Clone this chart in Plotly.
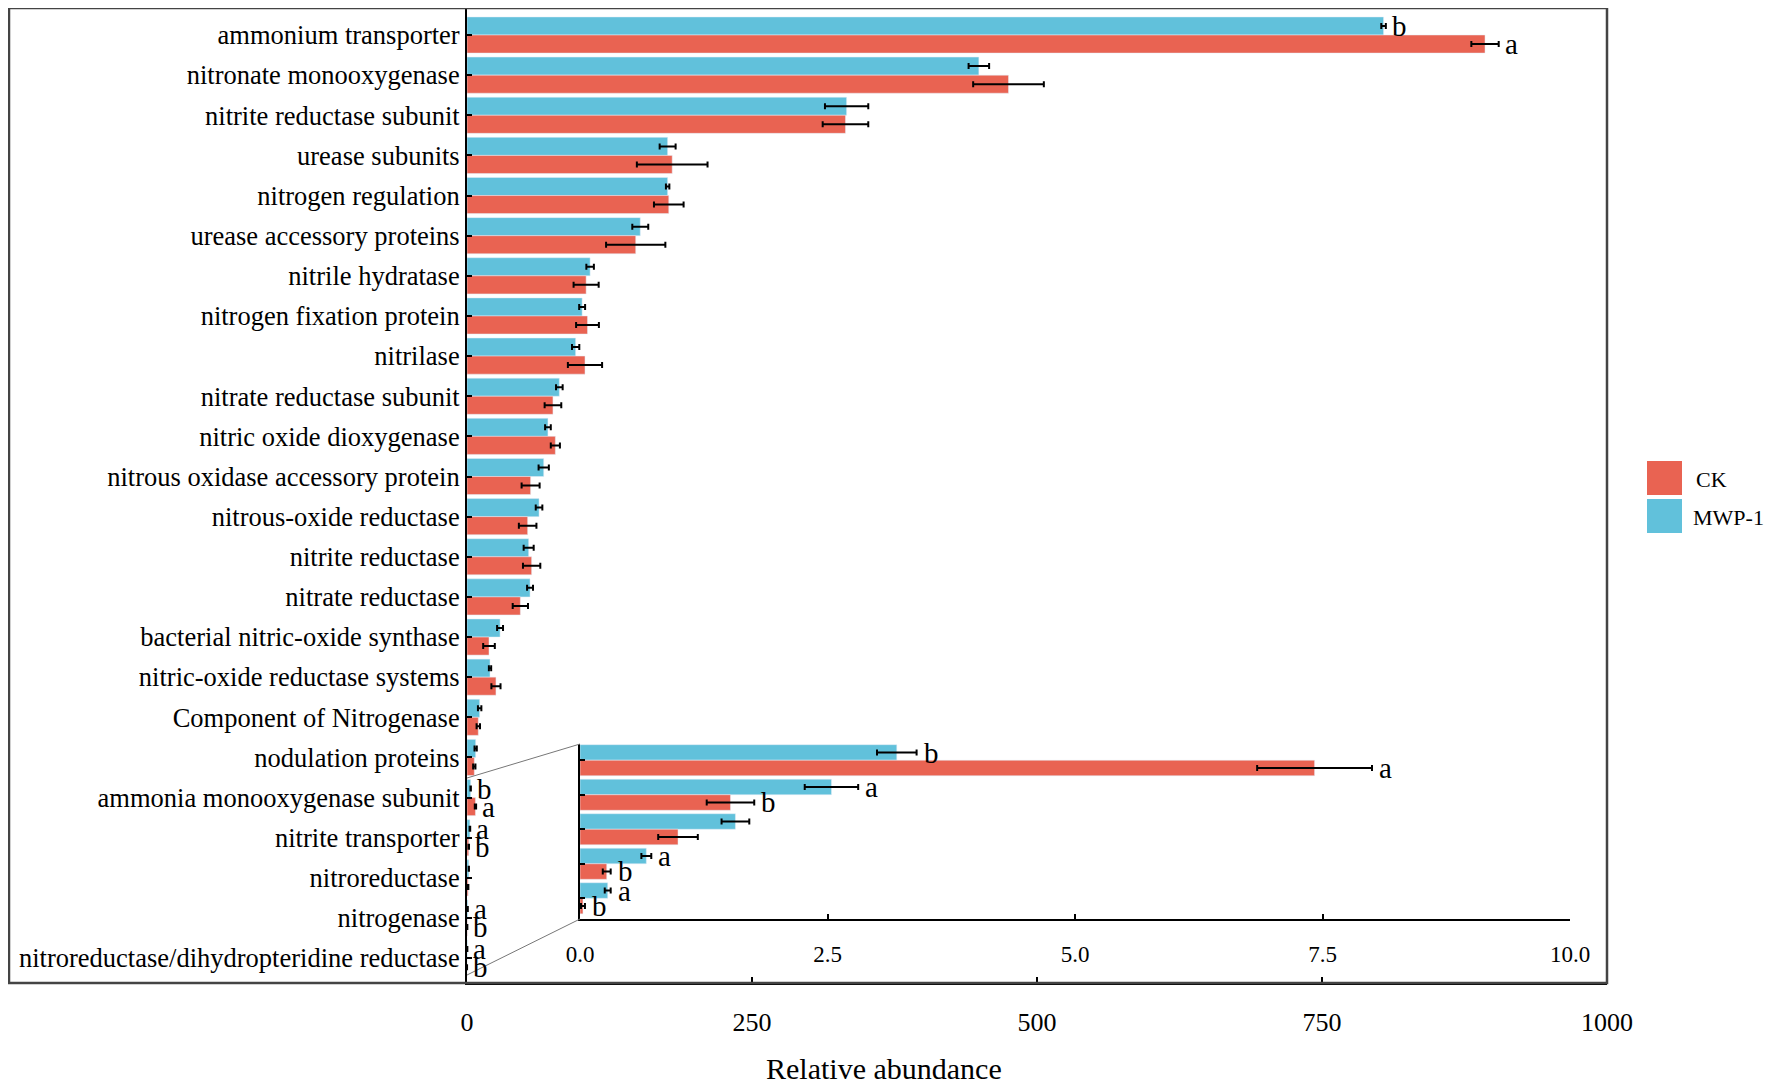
import plotly.graph_objects as go

# Nitrogen-cycle gene categories (top to bottom)
categories = ['ammonium transporter', 'nitronate monooxygenase', 'nitrite reductase subunit', 'urease subunits',
              'nitrogen regulation', 'urease accessory proteins', 'nitrile hydratase', 'nitrogen fixation protein',
              'nitrilase', 'nitrate reductase subunit', 'nitric oxide dioxygenase', 'nitrous oxidase accessory protein',
              'nitrous-oxide reductase', 'nitrite reductase', 'nitrate reductase', 'bacterial nitric-oxide synthase',
              'nitric-oxide reductase systems', 'Component of Nitrogenase', 'nodulation proteins',
              'ammonia monooxygenase subunit', 'nitrite transporter', 'nitroreductase', 'nitrogenase',
              'nitroreductase/dihydropteridine reductase']

# relative abundance, mean and error
mwp_values = [804, 449, 333, 176, 176, 152, 108, 101, 95.3, 81, 71, 67.3, 63.2, 54.1, 55.3, 29, 20.2, 11.1, 7.6,
              3.2, 2.54, 1.57, 0.67, 0.28]
mwp_errors = [2, 9, 19, 7, 1.5, 7, 3.3, 2.6, 3.2, 2.9, 2.5, 4.5, 2.9, 4.4, 2.6, 2.6, 1, 1.5, 1,
              0.2, 0.27, 0.14, 0.05, 0.03]
ck_values = [893, 475, 332, 180, 177, 148, 104.5, 105.7, 103.5, 75.4, 77.5, 55.8, 53.2, 56.7, 46.8, 19.3, 25.4, 9.9, 6.4,
             7.42, 1.52, 0.99, 0.27, 0.03]
ck_errors = [12, 31, 20, 31, 13, 26, 11, 10, 15, 7.3, 4, 7.9, 7.7, 7.6, 6.7, 5.1, 4, 1.5, 1,
             0.58, 0.24, 0.2, 0.04, 0.02]

# significance letters
mwp_letters = ['b'] + [''] * 18 + ['b', 'a', '', 'a', 'a']
ck_letters = ['a'] + [''] * 18 + ['a', 'b', '', 'b', 'b']

# categories shown again in the zoomed inset
n_inset = 5
inset_cats = categories[-n_inset:]

x_ticks = [0, 250, 500, 750, 1000]
inset_ticks = [0, 2.5, 5.0, 7.5, 10.0]

colors = {'CK': '#E96352', 'MWP-1': '#61C1DB'}
font = 'Liberation Serif'

# page has an 8px body margin, so the figure is a bit smaller than the window
OFF = 8
W, H = 1772 - OFF, 1086 - OFF
ml, mr, mt, mb = 467 - OFF, 165, 0, 103
pw, ph = W - ml - mr, H - mt - mb


def px(X):
    # page pixel -> paper x
    return (X - OFF - ml) / pw


def py(Y):
    # page pixel -> paper y
    return (H - mb - (Y - OFF)) / ph


fig = go.Figure()

for name, vals, errs in [('MWP-1', mwp_values, mwp_errors), ('CK', ck_values, ck_errors)]:
    fig.add_trace(go.Bar(y=categories, x=vals, name=name, orientation='h', marker_color=colors[name],
                         error_x=dict(type='data', array=errs, color='black', thickness=2, width=3),
                         showlegend=False))
for name, vals, errs in [('MWP-1', mwp_values, mwp_errors), ('CK', ck_values, ck_errors)]:
    fig.add_trace(go.Bar(y=inset_cats, x=vals[-n_inset:], name=name, orientation='h', marker_color=colors[name],
                         error_x=dict(type='data', array=errs[-n_inset:], color='black', thickness=2, width=3),
                         xaxis='x2', yaxis='y2', showlegend=False))

annotations = []
for i, cat in enumerate(categories):
    for letters, vals, errs, shift in [(mwp_letters, mwp_values, mwp_errors, 9),
                                       (ck_letters, ck_values, ck_errors, -9)]:
        if letters[i]:
            annotations.append(dict(x=vals[i] + errs[i], y=cat, xref='x', yref='y', text=letters[i],
                                    showarrow=False, xanchor='left', xshift=4, yshift=shift,
                                    font=dict(family=font, size=29, color='black')))
            if cat in inset_cats:
                annotations.append(dict(x=vals[i] + errs[i], y=cat, xref='x2', yref='y2', text=letters[i],
                                        showarrow=False, xanchor='left', xshift=5, yshift=shift * 0.85,
                                        font=dict(family=font, size=29, color='black')))

# frame, zoom lines and a hand-drawn legend with large square keys
shapes = [
    dict(type='rect', xref='paper', yref='paper', x0=px(9), x1=1, y0=0, y1=1,
         line=dict(color='#444444', width=2.5)),
    dict(type='line', xref='paper', yref='paper', x0=0, y0=py(778), x1=px(580), y1=py(744),
         line=dict(color='#777777', width=1)),
    dict(type='line', xref='paper', yref='paper', x0=0, y0=py(975), x1=px(580), y1=py(919),
         line=dict(color='#777777', width=1)),
    dict(type='rect', xref='paper', yref='paper', x0=px(1647), x1=px(1682), y0=py(495), y1=py(461),
         fillcolor=colors['CK'], line=dict(width=0)),
    dict(type='rect', xref='paper', yref='paper', x0=px(1647), x1=px(1682), y0=py(533), y1=py(499),
         fillcolor=colors['MWP-1'], line=dict(width=0)),
]
annotations += [
    dict(x=px(1694), y=py(479), xref='paper', yref='paper', text='CK', showarrow=False, xanchor='left',
         font=dict(family=font, size=22, color='black')),
    dict(x=px(1691), y=py(517), xref='paper', yref='paper', text='MWP-1', showarrow=False, xanchor='left',
         font=dict(family=font, size=22, color='black')),
    # x-axis title, centred on the whole figure as in the original
    dict(x=px(884), y=py(1068), xref='paper', yref='paper', text='Relative abundance', showarrow=False,
         xanchor='center', yanchor='middle', font=dict(family=font, size=30, color='black')),
]

fig.update_layout(
    width=W, height=H,
    margin=dict(l=ml, r=mr, t=mt, b=mb),
    paper_bgcolor='white', plot_bgcolor='white',
    barmode='group', bargap=0.1, bargroupgap=0,
    font=dict(family=font, color='black'),
    shapes=shapes, annotations=annotations,
    xaxis=dict(range=[0, 1000], tickvals=x_ticks, ticks='inside', ticklen=6, tickwidth=2, tickcolor='black',
               showline=True, linecolor='black', linewidth=2, showgrid=False, zeroline=False,
               tickfont=dict(size=26), ticklabelstandoff=15),
    yaxis=dict(type='category', categoryorder='array', categoryarray=categories, range=[23.62, -0.673],
               ticks='inside', ticklen=5, tickwidth=2, tickcolor='black',
               showline=True, linecolor='black', linewidth=2, showgrid=False, zeroline=False,
               tickfont=dict(size=26.5)),
    xaxis2=dict(domain=[px(580), px(1570)], anchor='y2', range=[0, 10], tickvals=inset_ticks,
                tickformat='.1f', ticks='inside', ticklen=5, tickwidth=1.5, tickcolor='black',
                showline=True, linecolor='black', linewidth=2, showgrid=False, zeroline=False,
                tickfont=dict(size=23), ticklabelstandoff=13),
    yaxis2=dict(domain=[py(919), py(744)], anchor='x2', type='category', categoryorder='array',
                categoryarray=inset_cats, range=[4.6, -0.47], showticklabels=False,
                ticks='inside', ticklen=5, tickwidth=1.5, tickcolor='black',
                showline=True, linecolor='black', linewidth=2, showgrid=False, zeroline=False),
)

fig.write_html('out.html')
